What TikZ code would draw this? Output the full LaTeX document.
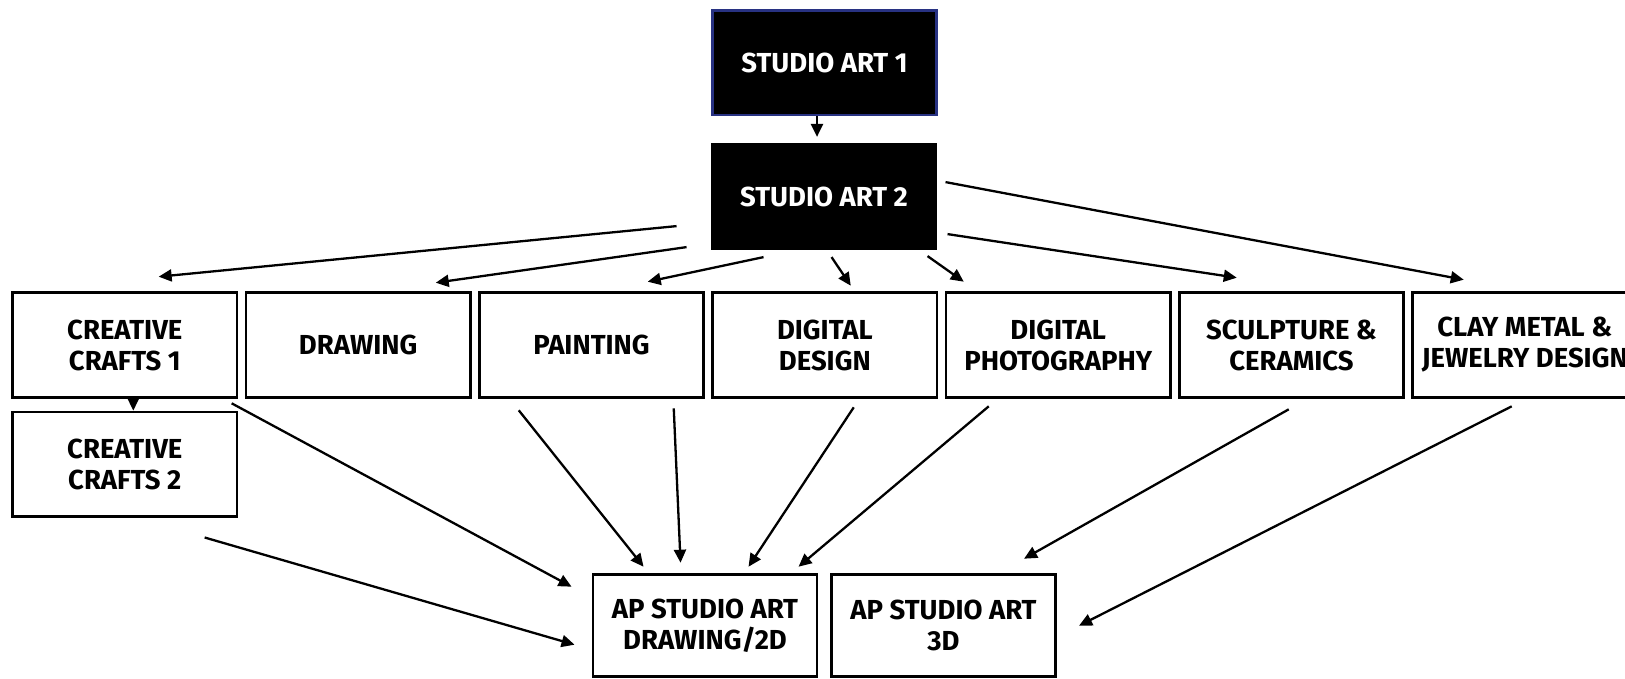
\documentclass[tikz,border=0pt]{standalone}
\usepackage{fontspec}
\setmainfont{Fira Sans}
\usetikzlibrary{arrows.meta,calc}
\definecolor{navyline}{RGB}{40,50,130}
\newcommand\boxfont{\bfseries\fontsize{27.5}{31}\selectfont}
\begin{document}
\begin{tikzpicture}[x=1pt,y=-1pt,
  box/.style={draw=black,line width=2.6pt,minimum width=224.3pt,minimum height=104.6pt,inner sep=0pt,align=center,font=\boxfont},
  dark/.style={box,fill=black,text=white},
  apbox/.style={box,minimum height=102pt},
  arr/.style={-{Triangle[length=13pt,width=12pt]},line width=2.3pt}]
\useasboundingbox (0,0) rectangle (1625,678);
% top
\node[dark,draw=navyline] (sa1) at (824.5,62.5) {STUDIO ART 1};
\node[dark] (sa2) at (824,196.5) {STUDIO ART 2};
% row
\node[box] (cc1) at (124.8,345) {CREATIVE\\CRAFTS 1};
\node[box] (dr)  at (358.2,345) {DRAWING};
\node[box] (pa)  at (591.5,345) {PAINTING};
\node[box] (dd)  at (824.8,345) {DIGITAL\\DESIGN};
\node[box] (dp)  at (1058.2,345) {DIGITAL\\PHOTOGRAPHY};
\node[box] (sc)  at (1291.5,345) {SCULPTURE \&\\CERAMICS};
\node[box] (cm)  at (1524.8,345) {CLAY METAL \&\\JEWELRY DESIGN};
\node[box] (cc2) at (124.8,464.2) {CREATIVE\\CRAFTS 2};
% bottom
\node[apbox] (apd) at (705,625.5) {AP STUDIO ART\\DRAWING/2D};
\node[apbox] (ap3) at (943.5,625.5) {AP STUDIO ART\\3D};
% arrows top
\draw[arr] ($(sa1.south)+(-7.5,0)$) -- ($(sa2.north)+(-7,-6)$);
\draw[arr] ($(sa2.south west)+(-34,-24)$) -- ($(cc1.north west)+(147.3,-14.7)$);
\draw[arr] ($(sa2.south west)+(-24,-3)$) -- ($(dr.north west)+(191,-8.7)$);
\draw[arr] ($(sa2.south west)+(53,7)$) -- ($(pa.north west)+(169.7,-9.7)$);
\draw[arr] ($(sa2.south west)+(121,7)$) -- ($(dd.north west)+(139.4,-5.7)$);
\draw[arr] ($(sa2.south west)+(217,6)$) -- ($(dp.north west)+(19,-9.7)$);
\draw[arr] ($(sa2.south west)+(237,-16)$) -- ($(sc.north west)+(58.7,-13.7)$);
\draw[arr] ($(sa2.south west)+(235,-68)$) -- ($(cm.north west)+(52.4,-11.7)$);
% crafts
\draw[arr] ($(cc1.south)+(8.5,0)$) -- ($(cc2.north)+(8.5,0)$);
% arrows bottom
\draw[arr] ($(cc1.south west)+(220.3,4.7)$) -- ($(apd.north west)+(-20,13.5)$);
\draw[arr] ($(cc2.south west)+(193.3,19.7)$) -- ($(apd.north west)+(-17,71.5)$);
\draw[arr] ($(pa.south west)+(40.7,11.7)$) -- ($(apd.north west)+(52,-6.5)$);
\draw[arr] ($(pa.south west)+(195.7,9.7)$) -- ($(apd.north west)+(89,-10.5)$);
\draw[arr] ($(dd.south west)+(142.4,8.7)$) -- ($(apd.north west)+(157,-6.5)$);
\draw[arr] ($(dp.south west)+(44,7.7)$) -- ($(apd.north west)+(207,-6.5)$);
\draw[arr] ($(sc.south west)+(110.7,10.7)$) -- ($(ap3.north west)+(194,-14.5)$);
\draw[arr] ($(cm.south west)+(100.4,7.7)$) -- ($(ap3.north west)+(249,52.5)$);
\end{tikzpicture}
\end{document}
